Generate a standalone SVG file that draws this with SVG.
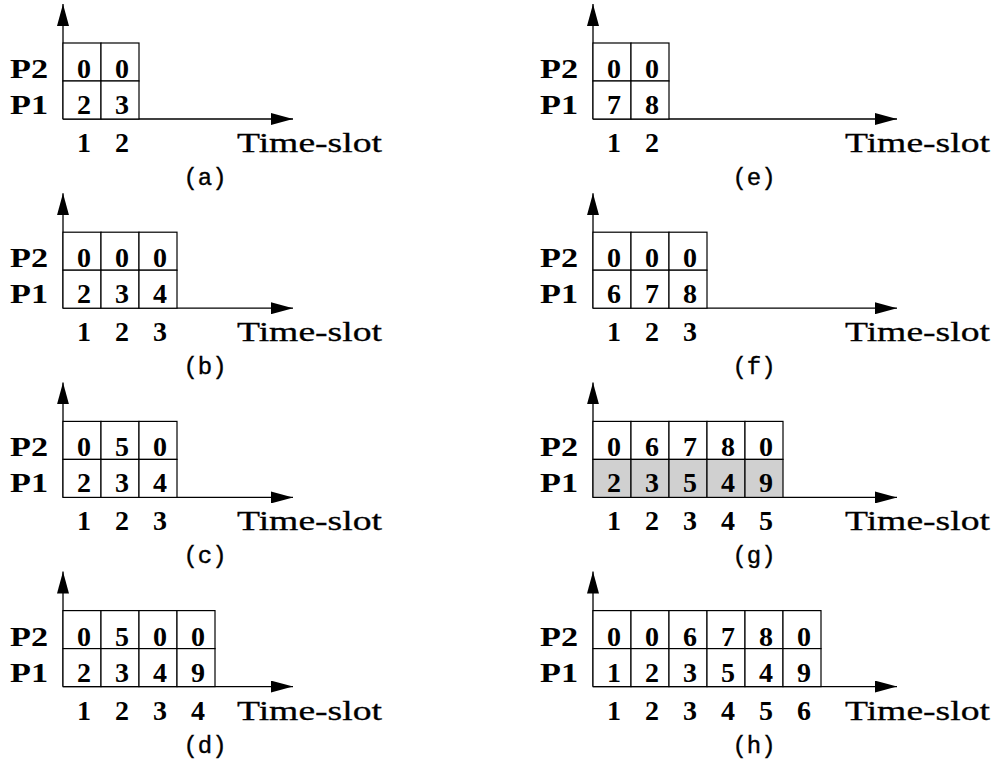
<svg xmlns="http://www.w3.org/2000/svg" width="993" height="762" viewBox="0 0 993 762">
<defs>
<style>
.ax{stroke:#000;stroke-width:1.3;fill:none}
.c{fill:#fff;stroke:#000;stroke-width:1.2}
.sh{fill:#d0d0d0;stroke:#000;stroke-width:1.2}
.b{font-family:"Liberation Serif",serif;font-weight:bold;font-size:28px;text-anchor:middle;fill:#000}
.p{font-family:"Liberation Serif",serif;font-weight:bold;font-size:27px;fill:#000}
.ts{font-family:"Liberation Serif",serif;font-size:28px;fill:#000;stroke:#000;stroke-width:0.3}
.lab{font-family:"Liberation Mono",monospace;font-size:24px;text-anchor:middle;fill:#000;stroke:#000;stroke-width:0.4}
</style>
<marker id="ah" markerUnits="userSpaceOnUse" markerWidth="22" markerHeight="12" refX="22" refY="6" orient="auto">
<path d="M0,0 L22,6 L0,12 z" fill="#000"/>
</marker>
</defs>
<rect width="993" height="762" fill="#fff"/>

<!-- (a) -->
<g id="panel-a" transform="translate(0,0)">
<g class="connectors"><line class="ax" x1="63" y1="119" x2="63" y2="4" marker-end="url(#ah)"/><line class="ax" x1="63" y1="119" x2="293" y2="119" marker-end="url(#ah)"/></g>
<rect class="c" x="63" y="43" width="38" height="38"/><rect class="c" x="101" y="43" width="38" height="38"/>
<rect class="c" x="63" y="81" width="38" height="38"/><rect class="c" x="101" y="81" width="38" height="38"/>
<text class="p" x="10" y="78" textLength="38" lengthAdjust="spacingAndGlyphs">P2</text>
<text class="p" x="10" y="114" textLength="38" lengthAdjust="spacingAndGlyphs">P1</text>
<text class="b" y="78"><tspan x="84">0</tspan><tspan x="122">0</tspan></text>
<text class="b" y="114"><tspan x="84">2</tspan><tspan x="122">3</tspan></text>
<text class="b" y="152"><tspan x="84">1</tspan><tspan x="122">2</tspan></text>
<text class="ts" x="237" y="152" textLength="145" lengthAdjust="spacingAndGlyphs">Time-slot</text>
<text class="lab" x="205" y="185">(a)</text>
</g>

<!-- (b) -->
<g id="panel-b" transform="translate(0,189.2)">
<g class="connectors"><line class="ax" x1="63" y1="119" x2="63" y2="4" marker-end="url(#ah)"/><line class="ax" x1="63" y1="119" x2="293" y2="119" marker-end="url(#ah)"/></g>
<rect class="c" x="63" y="43" width="38" height="38"/><rect class="c" x="101" y="43" width="38" height="38"/><rect class="c" x="139" y="43" width="38" height="38"/>
<rect class="c" x="63" y="81" width="38" height="38"/><rect class="c" x="101" y="81" width="38" height="38"/><rect class="c" x="139" y="81" width="38" height="38"/>
<text class="p" x="10" y="78" textLength="38" lengthAdjust="spacingAndGlyphs">P2</text>
<text class="p" x="10" y="114" textLength="38" lengthAdjust="spacingAndGlyphs">P1</text>
<text class="b" y="78"><tspan x="84">0</tspan><tspan x="122">0</tspan><tspan x="160">0</tspan></text>
<text class="b" y="114"><tspan x="84">2</tspan><tspan x="122">3</tspan><tspan x="160">4</tspan></text>
<text class="b" y="152"><tspan x="84">1</tspan><tspan x="122">2</tspan><tspan x="160">3</tspan></text>
<text class="ts" x="237" y="152" textLength="145" lengthAdjust="spacingAndGlyphs">Time-slot</text>
<text class="lab" x="205" y="185">(b)</text>
</g>

<!-- (c) -->
<g id="panel-c" transform="translate(0,378.4)">
<g class="connectors"><line class="ax" x1="63" y1="119" x2="63" y2="4" marker-end="url(#ah)"/><line class="ax" x1="63" y1="119" x2="293" y2="119" marker-end="url(#ah)"/></g>
<rect class="c" x="63" y="43" width="38" height="38"/><rect class="c" x="101" y="43" width="38" height="38"/><rect class="c" x="139" y="43" width="38" height="38"/>
<rect class="c" x="63" y="81" width="38" height="38"/><rect class="c" x="101" y="81" width="38" height="38"/><rect class="c" x="139" y="81" width="38" height="38"/>
<text class="p" x="10" y="78" textLength="38" lengthAdjust="spacingAndGlyphs">P2</text>
<text class="p" x="10" y="114" textLength="38" lengthAdjust="spacingAndGlyphs">P1</text>
<text class="b" y="78"><tspan x="84">0</tspan><tspan x="122">5</tspan><tspan x="160">0</tspan></text>
<text class="b" y="114"><tspan x="84">2</tspan><tspan x="122">3</tspan><tspan x="160">4</tspan></text>
<text class="b" y="152"><tspan x="84">1</tspan><tspan x="122">2</tspan><tspan x="160">3</tspan></text>
<text class="ts" x="237" y="152" textLength="145" lengthAdjust="spacingAndGlyphs">Time-slot</text>
<text class="lab" x="205" y="185">(c)</text>
</g>

<!-- (d) -->
<g id="panel-d" transform="translate(0,567.6)">
<g class="connectors"><line class="ax" x1="63" y1="119" x2="63" y2="4" marker-end="url(#ah)"/><line class="ax" x1="63" y1="119" x2="293" y2="119" marker-end="url(#ah)"/></g>
<rect class="c" x="63" y="43" width="38" height="38"/><rect class="c" x="101" y="43" width="38" height="38"/><rect class="c" x="139" y="43" width="38" height="38"/><rect class="c" x="177" y="43" width="38" height="38"/>
<rect class="c" x="63" y="81" width="38" height="38"/><rect class="c" x="101" y="81" width="38" height="38"/><rect class="c" x="139" y="81" width="38" height="38"/><rect class="c" x="177" y="81" width="38" height="38"/>
<text class="p" x="10" y="78" textLength="38" lengthAdjust="spacingAndGlyphs">P2</text>
<text class="p" x="10" y="114" textLength="38" lengthAdjust="spacingAndGlyphs">P1</text>
<text class="b" y="78"><tspan x="84">0</tspan><tspan x="122">5</tspan><tspan x="160">0</tspan><tspan x="198">0</tspan></text>
<text class="b" y="114"><tspan x="84">2</tspan><tspan x="122">3</tspan><tspan x="160">4</tspan><tspan x="198">9</tspan></text>
<text class="b" y="152"><tspan x="84">1</tspan><tspan x="122">2</tspan><tspan x="160">3</tspan><tspan x="198">4</tspan></text>
<text class="ts" x="237" y="152" textLength="145" lengthAdjust="spacingAndGlyphs">Time-slot</text>
<text class="lab" x="205" y="185">(d)</text>
</g>

<!-- (e) -->
<g id="panel-e" transform="translate(530,0)">
<g class="connectors"><line class="ax" x1="63" y1="119" x2="63" y2="4" marker-end="url(#ah)"/><line class="ax" x1="63" y1="119" x2="367" y2="119" marker-end="url(#ah)"/></g>
<rect class="c" x="63" y="43" width="38" height="38"/><rect class="c" x="101" y="43" width="38" height="38"/>
<rect class="c" x="63" y="81" width="38" height="38"/><rect class="c" x="101" y="81" width="38" height="38"/>
<text class="p" x="10" y="78" textLength="38" lengthAdjust="spacingAndGlyphs">P2</text>
<text class="p" x="10" y="114" textLength="38" lengthAdjust="spacingAndGlyphs">P1</text>
<text class="b" y="78"><tspan x="84">0</tspan><tspan x="122">0</tspan></text>
<text class="b" y="114"><tspan x="84">7</tspan><tspan x="122">8</tspan></text>
<text class="b" y="152"><tspan x="84">1</tspan><tspan x="122">2</tspan></text>
<text class="ts" x="315" y="152" textLength="145" lengthAdjust="spacingAndGlyphs">Time-slot</text>
<text class="lab" x="224" y="185">(e)</text>
</g>

<!-- (f) -->
<g id="panel-f" transform="translate(530,189.2)">
<g class="connectors"><line class="ax" x1="63" y1="119" x2="63" y2="4" marker-end="url(#ah)"/><line class="ax" x1="63" y1="119" x2="367" y2="119" marker-end="url(#ah)"/></g>
<rect class="c" x="63" y="43" width="38" height="38"/><rect class="c" x="101" y="43" width="38" height="38"/><rect class="c" x="139" y="43" width="38" height="38"/>
<rect class="c" x="63" y="81" width="38" height="38"/><rect class="c" x="101" y="81" width="38" height="38"/><rect class="c" x="139" y="81" width="38" height="38"/>
<text class="p" x="10" y="78" textLength="38" lengthAdjust="spacingAndGlyphs">P2</text>
<text class="p" x="10" y="114" textLength="38" lengthAdjust="spacingAndGlyphs">P1</text>
<text class="b" y="78"><tspan x="84">0</tspan><tspan x="122">0</tspan><tspan x="160">0</tspan></text>
<text class="b" y="114"><tspan x="84">6</tspan><tspan x="122">7</tspan><tspan x="160">8</tspan></text>
<text class="b" y="152"><tspan x="84">1</tspan><tspan x="122">2</tspan><tspan x="160">3</tspan></text>
<text class="ts" x="315" y="152" textLength="145" lengthAdjust="spacingAndGlyphs">Time-slot</text>
<text class="lab" x="224" y="185">(f)</text>
</g>

<!-- (g) -->
<g id="panel-g" transform="translate(530,378.4)">
<g class="connectors"><line class="ax" x1="63" y1="119" x2="63" y2="4" marker-end="url(#ah)"/><line class="ax" x1="63" y1="119" x2="367" y2="119" marker-end="url(#ah)"/></g>
<rect class="c" x="63" y="43" width="38" height="38"/><rect class="c" x="101" y="43" width="38" height="38"/><rect class="c" x="139" y="43" width="38" height="38"/><rect class="c" x="177" y="43" width="38" height="38"/><rect class="c" x="215" y="43" width="38" height="38"/>
<rect class="sh" x="63" y="81" width="38" height="38"/><rect class="sh" x="101" y="81" width="38" height="38"/><rect class="sh" x="139" y="81" width="38" height="38"/><rect class="sh" x="177" y="81" width="38" height="38"/><rect class="sh" x="215" y="81" width="38" height="38"/>
<text class="p" x="10" y="78" textLength="38" lengthAdjust="spacingAndGlyphs">P2</text>
<text class="p" x="10" y="114" textLength="38" lengthAdjust="spacingAndGlyphs">P1</text>
<text class="b" y="78"><tspan x="84">0</tspan><tspan x="122">6</tspan><tspan x="160">7</tspan><tspan x="198">8</tspan><tspan x="236">0</tspan></text>
<text class="b" y="114"><tspan x="84">2</tspan><tspan x="122">3</tspan><tspan x="160">5</tspan><tspan x="198">4</tspan><tspan x="236">9</tspan></text>
<text class="b" y="152"><tspan x="84">1</tspan><tspan x="122">2</tspan><tspan x="160">3</tspan><tspan x="198">4</tspan><tspan x="236">5</tspan></text>
<text class="ts" x="315" y="152" textLength="145" lengthAdjust="spacingAndGlyphs">Time-slot</text>
<text class="lab" x="224" y="185">(g)</text>
</g>

<!-- (h) -->
<g id="panel-h" transform="translate(530,567.6)">
<g class="connectors"><line class="ax" x1="63" y1="119" x2="63" y2="4" marker-end="url(#ah)"/><line class="ax" x1="63" y1="119" x2="367" y2="119" marker-end="url(#ah)"/></g>
<rect class="c" x="63" y="43" width="38" height="38"/><rect class="c" x="101" y="43" width="38" height="38"/><rect class="c" x="139" y="43" width="38" height="38"/><rect class="c" x="177" y="43" width="38" height="38"/><rect class="c" x="215" y="43" width="38" height="38"/><rect class="c" x="253" y="43" width="38" height="38"/>
<rect class="c" x="63" y="81" width="38" height="38"/><rect class="c" x="101" y="81" width="38" height="38"/><rect class="c" x="139" y="81" width="38" height="38"/><rect class="c" x="177" y="81" width="38" height="38"/><rect class="c" x="215" y="81" width="38" height="38"/><rect class="c" x="253" y="81" width="38" height="38"/>
<text class="p" x="10" y="78" textLength="38" lengthAdjust="spacingAndGlyphs">P2</text>
<text class="p" x="10" y="114" textLength="38" lengthAdjust="spacingAndGlyphs">P1</text>
<text class="b" y="78"><tspan x="84">0</tspan><tspan x="122">0</tspan><tspan x="160">6</tspan><tspan x="198">7</tspan><tspan x="236">8</tspan><tspan x="274">0</tspan></text>
<text class="b" y="114"><tspan x="84">1</tspan><tspan x="122">2</tspan><tspan x="160">3</tspan><tspan x="198">5</tspan><tspan x="236">4</tspan><tspan x="274">9</tspan></text>
<text class="b" y="152"><tspan x="84">1</tspan><tspan x="122">2</tspan><tspan x="160">3</tspan><tspan x="198">4</tspan><tspan x="236">5</tspan><tspan x="274">6</tspan></text>
<text class="ts" x="315" y="152" textLength="145" lengthAdjust="spacingAndGlyphs">Time-slot</text>
<text class="lab" x="224" y="185">(h)</text>
</g>
</svg>
